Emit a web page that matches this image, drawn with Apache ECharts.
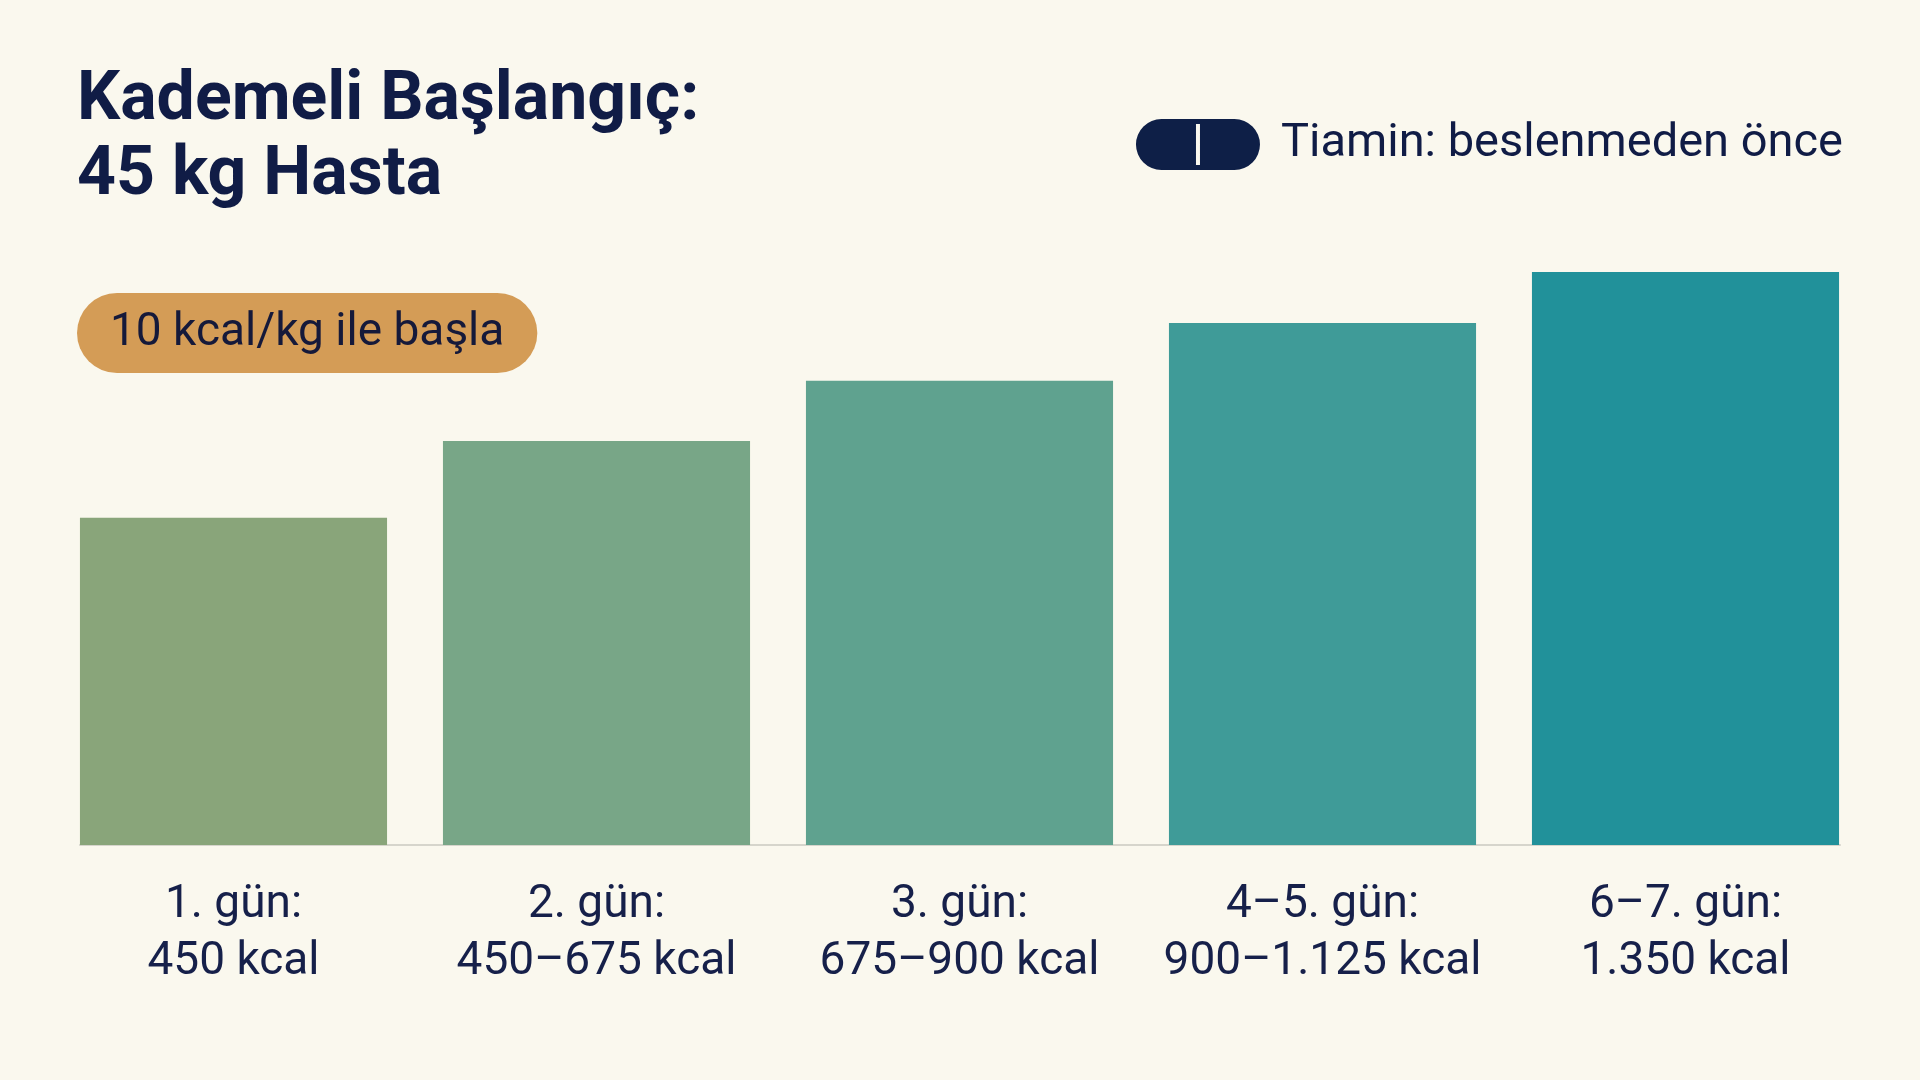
<!DOCTYPE html>
<html>
    <head>
        <meta charset="utf-8">
        <title>Kademeli Başlangıç</title>
        <script src="https://cdn.jsdelivr.net/npm/echarts@6/dist/echarts.min.js"></script>
        <style>
            html, body { margin: 0; padding: 0; background: #faf8ee; }
        </style>
    </head>
    <body>
        <div id="container" style="width: 1920px; height: 1080px"></div>
    </body>
    <script>
        // gün etiketleri (iki satır) ve çubuk yükseklikleri (en yüksek çubuğa göre %)
        var dayLabels = ['1. gün:\n450 kcal', '2. gün:\n450–675 kcal', '3. gün:\n675–900 kcal', '4–5. gün:\n900–1.125 kcal', '6–7. gün:\n1.350 kcal'];
        var barHeights = [57.1, 70.5, 81.0, 91.1, 100];
        var barColors = ['#89a57a', '#78a687', '#5fa28f', '#3f9b98', '#21919a'];

        var legendName = 'Tiamin: beslenmeden önce';
        var badgeText = '10 kcal/kg ile başla';

        var navy = '#101c46';
        var font = 'Roboto, "Noto Sans", sans-serif';

        // hap simgesi: ortasında ince yarık olan kapsül
        var pillIcon = 'path://M25.5,0 L98.5,0 A25.5,25.5 0 0 1 98.5,51 L25.5,51 A25.5,25.5 0 0 1 25.5,0 Z ' +
            'M60,5 L60,46 L64,46 L64,5 Z';

        var chartDom = document.getElementById('container');
        var myChart = echarts.init(chartDom);

        var option = {
            backgroundColor: '#faf8ee',
            animation: false,
            title: [{
                text: 'Kademeli Başlangıç:\n45 kg Hasta',
                left: 72,
                top: 59,
                textStyle: {
                    fontFamily: font,
                    fontSize: 68,
                    fontWeight: 'bold',
                    lineHeight: 75,
                    color: navy
                }
            }, {
                text: badgeText,
                left: 77,
                top: 293,
                padding: [17, 33],
                backgroundColor: '#d49c56',
                borderRadius: 40,
                textStyle: {
                    fontFamily: font,
                    fontSize: 46,
                    fontWeight: 'normal',
                    lineHeight: 46,
                    color: '#15193a'
                }
            }],
            legend: {
                right: 72,
                top: 114,
                selectedMode: false,
                icon: pillIcon,
                itemWidth: 124,
                itemHeight: 51,
                data: [{ name: legendName, itemStyle: { color: '#0e1f47' } }],
                textStyle: {
                    fontFamily: font,
                    fontSize: 47,
                    color: navy,
                    padding: [0, 0, 0, 16]
                }
            },
            grid: [{
                left: 52,
                right: 53,
                top: 272,
                bottom: 235
            }, {
                left: 80,
                right: 80,
                top: 272,
                bottom: 235
            }],
            xAxis: [{
                type: 'category',
                data: dayLabels,
                axisLine: { show: false },
                axisTick: { show: false },
                axisLabel: {
                    interval: 0,
                    margin: 32,
                    fontFamily: font,
                    fontSize: 46,
                    lineHeight: 57,
                    color: '#16204a'
                }
            }, {
                // çubukların altındaki ince taban çizgisi
                gridIndex: 1,
                type: 'category',
                data: dayLabels,
                axisLine: { lineStyle: { color: '#d6d5cc', width: 2 } },
                axisTick: { show: false },
                axisLabel: { show: false }
            }],
            yAxis: [{
                type: 'value',
                min: 0,
                max: 100,
                show: false
            }, {
                gridIndex: 1,
                type: 'value',
                min: 0,
                max: 100,
                show: false
            }],
            series: [{
                name: legendName,
                type: 'bar',
                barCategoryGap: '15.4%',
                z: 3,
                itemStyle: { color: '#0e1f47' },
                data: barHeights.map(function (v, i) {
                    return { value: v, itemStyle: { color: barColors[i] } };
                })
            }]
        };

        myChart.setOption(option);
    </script>
</html>
